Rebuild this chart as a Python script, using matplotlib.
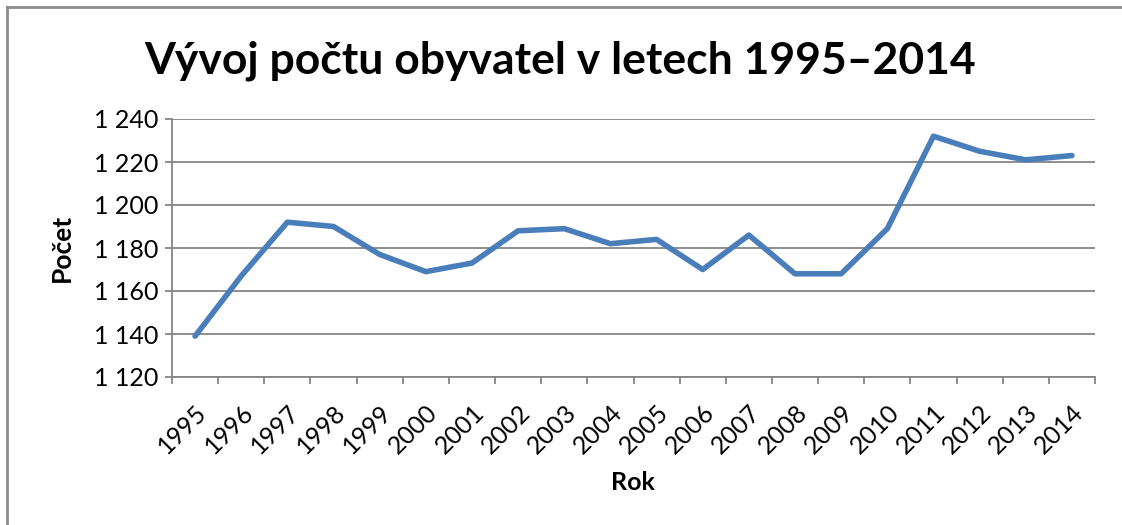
import matplotlib
matplotlib.use("Agg")
import matplotlib.pyplot as plt
from matplotlib.ticker import FuncFormatter, FixedLocator

plt.rcParams["font.family"] = ["Lato", "DejaVu Sans"]

years = [1995, 1996, 1997, 1998, 1999, 2000, 2001, 2002, 2003, 2004,
         2005, 2006, 2007, 2008, 2009, 2010, 2011, 2012, 2013, 2014]
population = [1139, 1167, 1192, 1190, 1177, 1169, 1173, 1188, 1189, 1182,
              1184, 1170, 1186, 1168, 1168, 1189, 1232, 1225, 1221, 1223]
y_ticks = [1120, 1140, 1160, 1180, 1200, 1220, 1240]

TITLE = "Vývoj počtu obyvatel v letech 1995–2014"
LINE_COLOR = "#4A7EBB"
GRID_COLOR = "#868686"

fig = plt.figure(figsize=(11.22, 5.25), dpi=100)
ax = fig.add_axes([172 / 1122, 1 - 377 / 525, (1095 - 172) / 1122, (377 - 119) / 525])

x = list(range(len(years)))
ax.plot(x, population, color=LINE_COLOR, linewidth=4, solid_capstyle="round",
        solid_joinstyle="round", zorder=3)

ax.set_xlim(-0.5, len(years) - 0.5)
ax.set_ylim(y_ticks[0], y_ticks[-1])
ax.set_yticks(y_ticks)
ax.yaxis.set_major_formatter(FuncFormatter(lambda v, _: f"{int(v):,}".replace(",", " ")))
ax.grid(axis="y", color=GRID_COLOR, linewidth=1.3)
ax.set_axisbelow(True)

ax.set_xticks(x)
ax.set_xticklabels([str(y) for y in years], rotation=45, ha="right",
                   rotation_mode="anchor", fontsize=18)
ax.xaxis.set_minor_locator(FixedLocator([i - 0.5 for i in range(len(years) + 1)]))
ax.tick_params(axis="x", which="major", length=0, pad=17)
ax.tick_params(axis="x", which="minor", length=5, width=1.3, color=GRID_COLOR)
ax.tick_params(axis="y", length=5, width=1.3, color=GRID_COLOR, labelsize=18, pad=5)

for side in ["top", "right"]:
    ax.spines[side].set_visible(False)
for side in ["left", "bottom"]:
    ax.spines[side].set_color(GRID_COLOR)
    ax.spines[side].set_linewidth(1.3)

fig.text(560 / 1122, 1 - 61 / 525, TITLE, fontsize=32, fontweight="bold",
         ha="center", va="center")
fig.text(62 / 1122, 1 - 248 / 525, "Počet", fontsize=19, fontweight="bold",
         rotation=90, ha="center", va="center")
fig.text(633 / 1122, 1 - 482 / 525, "Rok", fontsize=18, fontweight="bold",
         ha="center", va="center")

# border lines of the chart area (top and left only)
fig.add_artist(plt.Line2D([7 / 1122, 1], [1 - 7 / 525, 1 - 7 / 525],
                          transform=fig.transFigure, color="#8C8C8C", linewidth=2))
fig.add_artist(plt.Line2D([7 / 1122, 7 / 1122], [0, 1 - 7 / 525],
                          transform=fig.transFigure, color="#8C8C8C", linewidth=2))

fig.savefig("out.png", dpi=100, facecolor="white")
